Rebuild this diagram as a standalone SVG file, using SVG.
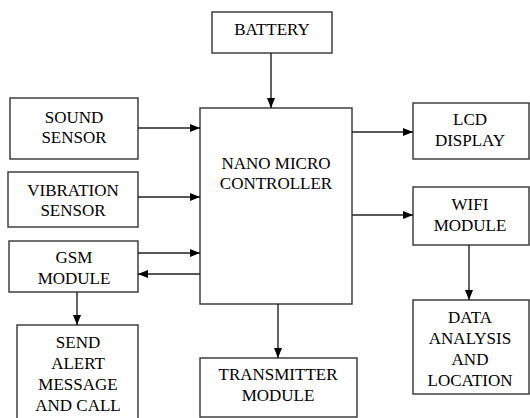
<svg xmlns="http://www.w3.org/2000/svg" width="530" height="418" viewBox="0 0 530 418">
<defs>
<marker id="ah" markerWidth="10" markerHeight="8" refX="10" refY="4" orient="auto" markerUnits="userSpaceOnUse">
<path d="M0,0 L10,4 L0,8 Z" fill="#000"/>
</marker>
<style>
rect{fill:#fff;stroke:#333;stroke-width:1.4}
text{font-size:17px;fill:#000;text-anchor:middle}
.c line{stroke:#222;stroke-width:1.4;marker-end:url(#ah)}
</style>
</defs>
<rect x="0" y="0" width="530" height="418" style="fill:#fff;stroke:none"/>
<g font-family="'Liberation Serif', 'Times New Roman', Times, serif">
<g id="battery"><rect x="212" y="12" width="120" height="41"/><text x="272" y="35">BATTERY</text></g>
<g id="sound"><rect x="10" y="98" width="128" height="61"/><text x="74" y="123">SOUND</text><text x="74" y="143">SENSOR</text></g>
<g id="vibration"><rect x="8" y="172" width="130" height="55"/><text x="73" y="196">VIBRATION</text><text x="73" y="216">SENSOR</text></g>
<g id="gsm"><rect x="9" y="241" width="129" height="51"/><text x="74" y="263">GSM</text><text x="74" y="284">MODULE</text></g>
<g id="alert"><rect x="17" y="325" width="121" height="100"/><text x="78" y="348">SEND</text><text x="78" y="369">ALERT</text><text x="78" y="390">MESSAGE</text><text x="78" y="411">AND CALL</text></g>
<g id="nano"><rect x="200" y="108" width="152" height="196"/><text x="276" y="169">NANO MICRO</text><text x="276" y="189">CONTROLLER</text></g>
<g id="transmitter"><rect x="200" y="358" width="157" height="59"/><text x="278" y="380">TRANSMITTER</text><text x="278" y="401">MODULE</text></g>
<g id="lcd"><rect x="413" y="103" width="116" height="56"/><text x="470" y="125">LCD</text><text x="470" y="146">DISPLAY</text></g>
<g id="wifi"><rect x="413" y="187" width="116" height="58"/><text x="470" y="210">WIFI</text><text x="470" y="231">MODULE</text></g>
<g id="data"><rect x="413" y="300" width="116" height="94"/><text x="470" y="323">DATA</text><text x="470" y="344">ANALYSIS</text><text x="470" y="365">AND</text><text x="470" y="386">LOCATION</text></g>
</g>
<g id="connectors" class="c">
<line x1="271" y1="53" x2="271" y2="108"/>
<line x1="138" y1="128" x2="200" y2="128"/>
<line x1="138" y1="197" x2="200" y2="197"/>
<line x1="138" y1="253" x2="200" y2="253"/>
<line x1="200" y1="274" x2="138" y2="274"/>
<line x1="77" y1="292" x2="77" y2="325"/>
<line x1="352" y1="132" x2="413" y2="132"/>
<line x1="352" y1="215" x2="413" y2="215"/>
<line x1="469" y1="245" x2="469" y2="300"/>
<line x1="278" y1="304" x2="278" y2="358"/>
</g>
</svg>
